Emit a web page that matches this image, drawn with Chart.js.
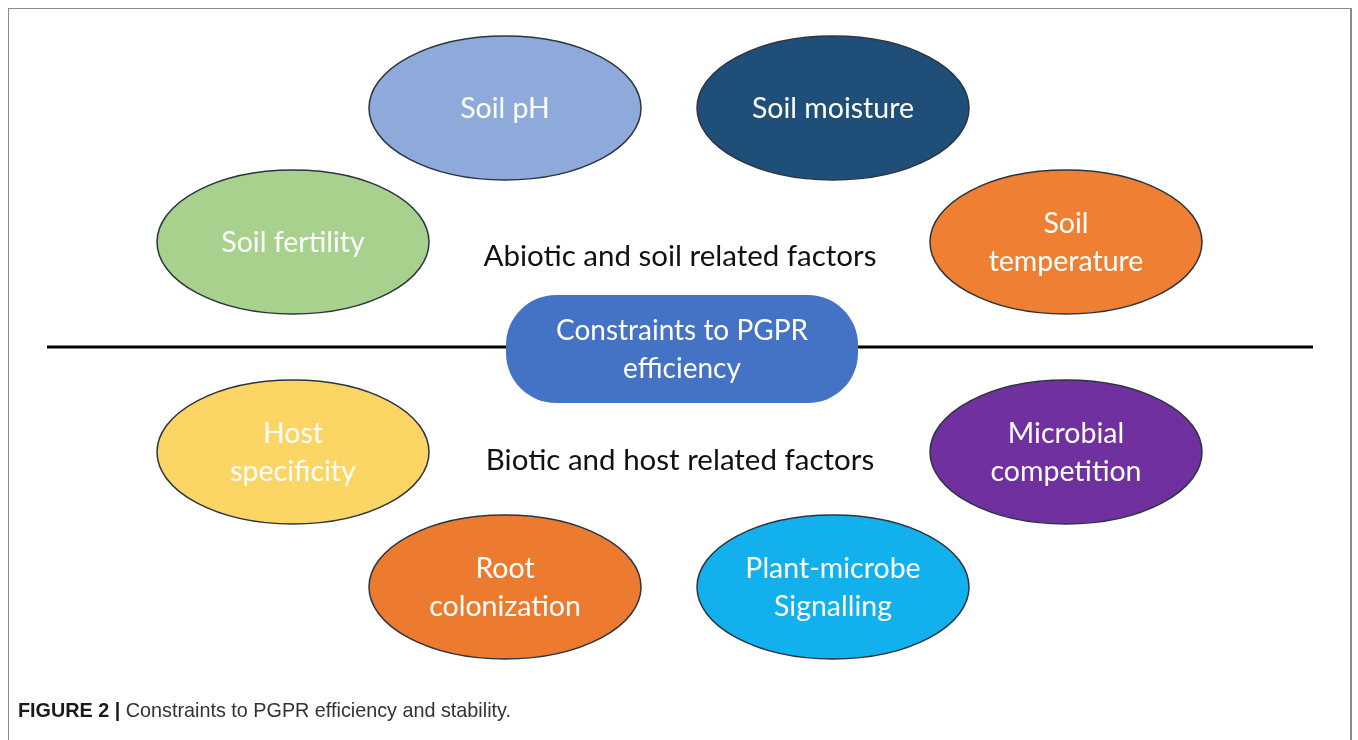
<!DOCTYPE html>
<html>
<head>
<meta charset="utf-8">
<script src="https://cdn.jsdelivr.net/npm/chart.js@4"></script>
<style>
  html, body { margin:0; padding:0; background:#fff; }
  #wrap { position:relative; width:1358px; height:740px; overflow:hidden; }
  #frame { position:absolute; left:8px; top:8px; width:1344px; height:760px; border:1px solid #8a8a8a; border-right:2px solid #8a8a8a; box-sizing:border-box; }
  #c { position:absolute; left:0; top:0; }
  #caption { position:absolute; left:18px; top:699px; font-family:'Liberation Sans',Arial,sans-serif; font-size:19.8px; color:#333; white-space:nowrap; }
  #caption b { color:#1a1a1a; }
</style>
</head>
<body>
<div id="wrap">
  <div id="frame"></div>
  <canvas id="c" width="1358" height="740"></canvas>
  <div id="caption"><b>FIGURE 2 |</b> Constraints to PGPR efficiency and stability.</div>
</div>
<script>
// ---- data ----
const factorLabels = ['Soil pH', 'Soil moisture', 'Soil fertility', 'Soil\ntemperature',
                      'Host\nspecificity', 'Microbial\ncompetition', 'Root\ncolonization', 'Plant-microbe\nSignalling'];
const factorX = [505, 833, 293, 1066, 293, 1066, 505, 833];
const factorY = [108, 108, 242, 242, 452, 452, 587, 587];
const factorColors = ['#8eaadb', '#1f4e79', '#a9d18e', '#ee7f33', '#fbd664', '#7030a0', '#ec7b30', '#12b0ec'];

const centerLabel = ['Constraints to PGPR', 'efficiency'];
const centerX = [682];
const centerY = [349];

const groupLabels = ['Abiotic and soil related factors', 'Biotic and host related factors'];
const groupX = [680, 680];
const groupY = [256, 460];

const dividerX = [47, 1313];
const dividerY = [347, 347];

// ---- drawing ----
const ELL_RX = 136, ELL_RY = 72;
const PILL_HW = 176, PILL_HH = 54;
const LABEL_FONT = 'Lato, "Open Sans", sans-serif';

function linesOf(s){ return s.split('\n'); }

const diagramPlugin = {
  id: 'diagram',
  afterDatasetsDraw(chart) {
    const ctx = chart.ctx;
    const xs = chart.scales.x, ys = chart.scales.y;
    // ellipses
    const m = chart.getDatasetMeta(1);
    m.data.forEach((el, i) => {
      const cx = el.x, cy = el.y;
      const rx = xs.getPixelForValue(factorX[i] + ELL_RX) - cx;
      const ry = ys.getPixelForValue(factorY[i] + ELL_RY) - cy;
      ctx.save();
      ctx.beginPath();
      ctx.ellipse(cx, cy, Math.abs(rx), Math.abs(ry), 0, 0, Math.PI * 2);
      ctx.fillStyle = factorColors[i];
      ctx.fill();
      ctx.lineWidth = 1.5;
      ctx.strokeStyle = '#2c3440';
      ctx.stroke();
      ctx.fillStyle = '#ffffff';
      ctx.font = '28.5px ' + LABEL_FONT;
      ctx.textAlign = 'center';
      ctx.textBaseline = 'middle';
      const ls = linesOf(factorLabels[i]);
      const lh = 38;
      ls.forEach((t, k) => {
        ctx.fillText(t, cx, cy + (k - (ls.length - 1) / 2) * lh + 1);
      });
      ctx.restore();
    });
    // center pill
    const mc = chart.getDatasetMeta(2);
    mc.data.forEach((el) => {
      const cx = el.x, cy = el.y;
      const hw = PILL_HW, hh = PILL_HH;
      ctx.save();
      ctx.beginPath();
      ctx.roundRect(cx - hw, cy - hh, hw * 2, hh * 2, 50);
      ctx.fillStyle = '#4472c4';
      ctx.fill();
      ctx.fillStyle = '#ffffff';
      ctx.font = '28px ' + LABEL_FONT;
      ctx.textAlign = 'center';
      ctx.textBaseline = 'middle';
      ctx.fillText(centerLabel[0], cx, cy - 18);
      ctx.fillText(centerLabel[1], cx, cy + 20);
      ctx.restore();
    });
    // group labels
    const mg = chart.getDatasetMeta(3);
    mg.data.forEach((el, i) => {
      ctx.save();
      ctx.fillStyle = '#111';
      ctx.font = '29.5px ' + LABEL_FONT;
      ctx.textAlign = 'center';
      ctx.textBaseline = 'middle';
      ctx.fillText(groupLabels[i], el.x, el.y);
      ctx.restore();
    });
  }
};

new Chart(document.getElementById('c'), {
  type: 'scatter',
  data: {
    datasets: [
      { type: 'line', data: dividerX.map((x, i) => ({ x, y: dividerY[i] })),
        borderColor: '#000', borderWidth: 3, pointRadius: 0, fill: false },
      { data: factorX.map((x, i) => ({ x, y: factorY[i] })), pointRadius: 0 },
      { data: centerX.map((x, i) => ({ x, y: centerY[i] })), pointRadius: 0 },
      { data: groupX.map((x, i) => ({ x, y: groupY[i] })), pointRadius: 0 }
    ]
  },
  options: {
    responsive: false,
    animation: false,
    events: [],
    layout: { padding: 0 },
    scales: {
      x: { type: 'linear', min: 0, max: 1358, display: false },
      y: { type: 'linear', min: 0, max: 740, reverse: true, display: false }
    },
    plugins: { legend: { display: false }, tooltip: { enabled: false }, title: { display: false } }
  },
  plugins: [diagramPlugin]
});
</script>
</body>
</html>
